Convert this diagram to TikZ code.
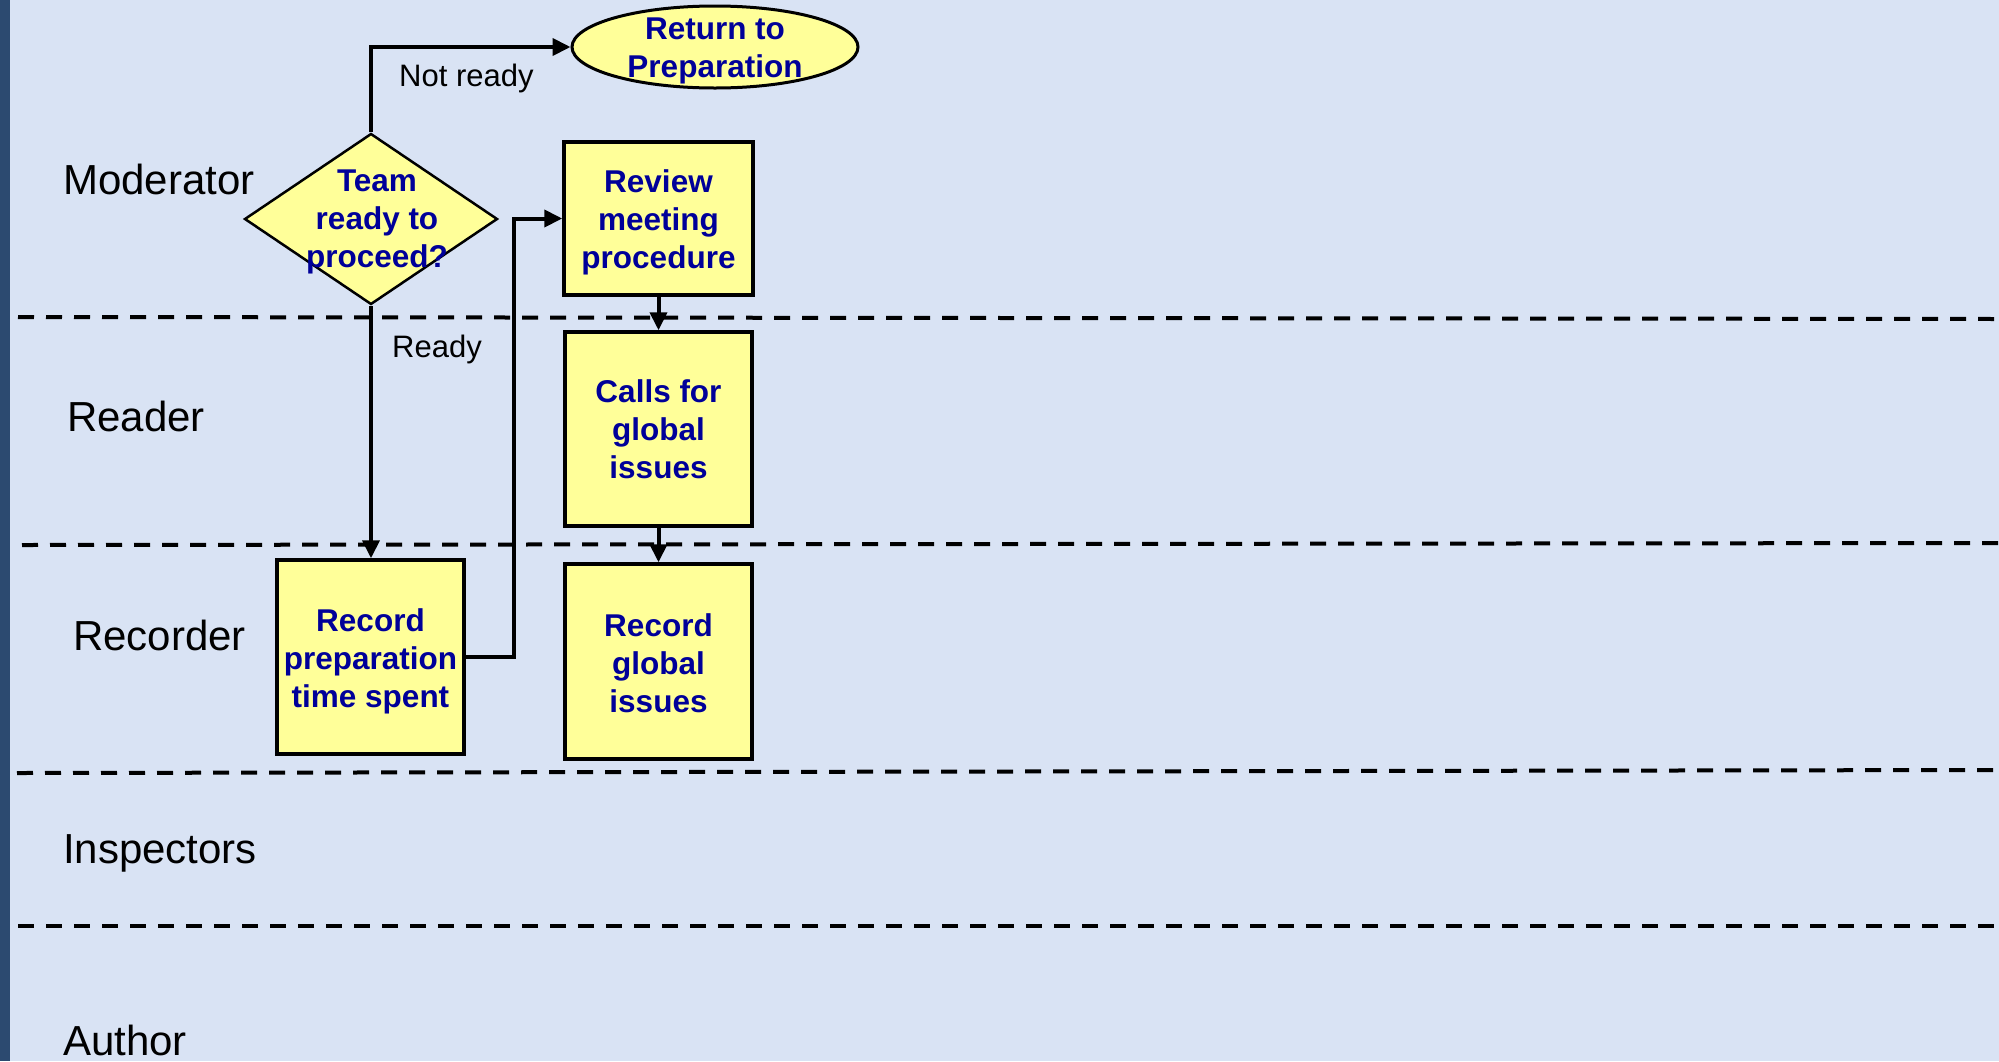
\documentclass[tikz,border=0pt]{standalone}
\usepackage{fontspec}
\setmainfont{Liberation Sans}
\usetikzlibrary{shapes.geometric,arrows.meta}
\definecolor{bgblue}{RGB}{217,227,244}
\definecolor{barblue}{RGB}{44,74,112}
\definecolor{boxyellow}{RGB}{255,255,153}
\definecolor{navytext}{RGB}{0,0,153}
\newcommand{\nodefnt}{\bfseries\fontsize{31.5pt}{38pt}\selectfont}
\newcommand{\lanefnt}{\fontsize{42pt}{48pt}\selectfont}
\newcommand{\edgefnt}{\fontsize{31pt}{36pt}\selectfont}
\tikzset{
  box/.style={draw=black, line width=3.5pt, fill=boxyellow, minimum width=187pt,
    minimum height=194pt, inner sep=0pt},
  nodetext/.style={font=\nodefnt, text=navytext, align=center, inner sep=0pt},
  lanelabel/.style={font=\lanefnt, text=black, anchor=base west, inner sep=0pt},
  edgelabel/.style={font=\edgefnt, text=black, anchor=base west, inner sep=0pt},
  conn/.style={line width=4pt, draw=black, -{Triangle[length=18pt 0 0,width=17pt 0 0]}},
  laneline/.style={line width=4pt, draw=black, dash pattern=on 16pt off 12pt}
}
\begin{document}
\begin{tikzpicture}[x=1pt,y=-1pt]
\useasboundingbox (0,0) rectangle (1999,1061);
\fill[bgblue] (0,0) rectangle (1999,1061);
\fill[barblue] (0,0) rectangle (10,1061);
% lane separators
\draw[laneline] (18,317) -- (1999,319);
\draw[laneline] (22,545) -- (1999,543);
\draw[laneline] (17,773) -- (1999,770);
\draw[laneline] (18,926) -- (1999,926);
% lane labels
\node[lanelabel] (lmod) at (63,194) {Moderator};
\node[lanelabel] (lread) at (67,431) {Reader};
\node[lanelabel] (lrec) at (73,650) {Recorder};
\node[lanelabel] (linsp) at (63,863) {Inspectors};
\node[lanelabel] (lauth) at (63,1055) {Author};
% shapes
\node[ellipse, draw=black, line width=3pt, fill=boxyellow, minimum width=286pt,
  minimum height=82pt, inner sep=0pt] (ret) at (715,47) {};
\node[nodetext, yshift=-4pt] (rettext) at (ret.center) {Return to\\Preparation};
\node[diamond, draw=black, line width=2.5pt, fill=boxyellow, minimum width=253pt,
  minimum height=171pt, inner sep=0pt] (dec) at (371,219) {};
\node[nodetext, yshift=-3pt] (dectext) at (377,219) {Team\\ready to\\proceed?};
\node[box, minimum width=189pt, minimum height=153pt] (rev) at (658.5,218.5) {};
\node[nodetext, yshift=-4pt] (revtext) at (rev.center) {Review\\meeting\\procedure};
\node[box] (calls) at (658.5,429) {};
\node[nodetext] (callstext) at (calls.center) {Calls for\\global\\issues};
\node[box, minimum height=195pt] (recg) at (658.5,661.5) {};
\node[nodetext, yshift=-2pt] (recgtext) at (recg.center) {Record\\global\\issues};
\node[box] (prep) at (370.5,657) {};
\node[nodetext, yshift=-4pt] (preptext) at (prep.center) {Record\\preparation\\time spent};
% connectors
\coordinate (elbow) at (514,657);
\draw[conn] (dec.north) |- (ret.west);
\draw[conn] (dec.south) -- (dec.south |- prep.north);
\draw[conn] (prep.east) -- (elbow) |- (rev.west);
\draw[conn] (rev.south) -- (calls.north);
\draw[conn] (calls.south) -- (recg.north);
% edge labels
\node[edgelabel] (notready) at (399,86) {Not ready};
\node[edgelabel] (ready) at (392,357) {Ready};
\end{tikzpicture}
\end{document}
